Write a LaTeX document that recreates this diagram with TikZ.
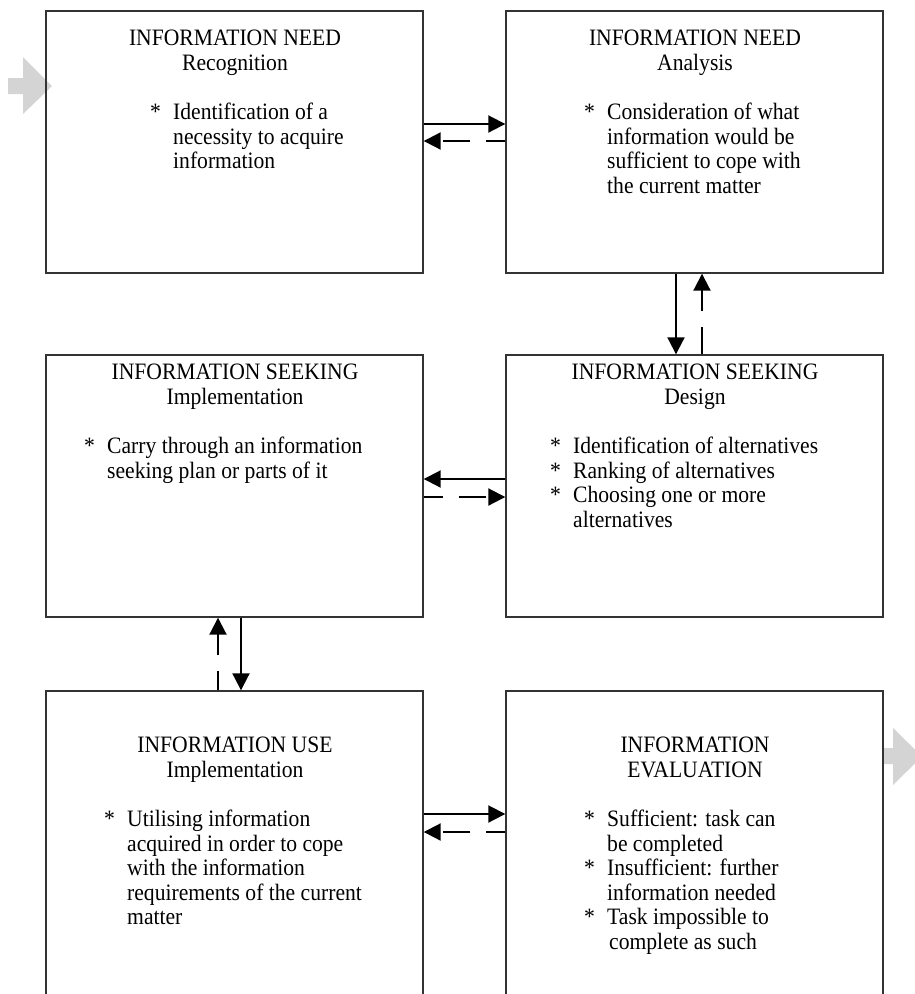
\documentclass[tikz,border=0pt]{standalone}
\usepackage{fontspec}
\setmainfont{Liberation Serif}[FakeStretch=0.92]
\usetikzlibrary{arrows.meta}

% bullet and continuation indent for the item lists
\newcommand{\bit}{\makebox[23pt][l]{*}}
\newcommand{\bco}{\hspace*{23pt}}

\begin{document}
\begin{tikzpicture}[x=1pt,y=-1pt,
  box/.style={draw=black!80, line width=1.4pt, minimum width=377pt,
    minimum height=262pt, inner sep=0pt},
  openbox/.style={box, minimum height=320pt},
  title/.style={align=center, inner sep=0pt, anchor=north,
    font=\fontsize{23.5}{24.5}\selectfont},
  body/.style={align=left, inner sep=0pt, anchor=north west,
    font=\fontsize{23.5}{24.5}\selectfont},
  flow/.style={line width=2pt, -{Triangle[length=17pt,width=17pt]}},
  back/.style={flow, dash pattern=on 27pt off 16pt, dash phase=8pt},
  hint/.style={fill=black!17, draw=none}]

\useasboundingbox (0,0) rectangle (915,994);
\clip (0,0) rectangle (915,994);

% grey entry and exit arrows
\fill[hint] (8,78) -- (23,78) -- (23,57) -- (52,86) -- (23,114) -- (23,94) -- (8,94) -- cycle;
\fill[hint] (883,748) -- (893,748) -- (893,728) -- (922,756.5) -- (893,785) -- (893,764) -- (883,764) -- cycle;

% boxes
\node[box] (need)   at (234.5,142) {};
\node[box] (anal)   at (694.5,142) {};
\node[box] (impl)   at (234.5,486) {};
\node[box] (design) at (694.5,486) {};
\node[openbox] (use)  at (234.5,851) {};
\node[openbox] (eval) at (694.5,851) {};

% box texts
\node[title] (t1) at (235,30) {INFORMATION NEED\\Recognition};
\node[body]  (b1) at (150,103) {\bit Identification of a\\\bco necessity to acquire\\\bco information};

\node[title] (t2) at (695,30) {INFORMATION NEED\\Analysis};
\node[body]  (b2) at (584,103) {\bit Consideration of what\\\bco information would be\\\bco sufficient to cope with\\\bco the current matter};

\node[title] (t3) at (235,364) {INFORMATION SEEKING\\Implementation};
\node[body]  (b3) at (84,437) {\bit Carry through an information\\\bco seeking plan or parts of it};

\node[title] (t4) at (695,364) {INFORMATION SEEKING\\Design};
\node[body]  (b4) at (550,437) {\bit Identification of alternatives\\\bit Ranking of alternatives\\\bit Choosing one or more\\\bco alternatives};

\node[title] (t5) at (235,737) {INFORMATION USE\\Implementation};
\node[body]  (b5) at (104,810) {\bit Utilising information\\\bco acquired in order to cope\\\bco with the information\\\bco requirements of the current\\\bco matter};

\node[title] (t6) at (695,737) {INFORMATION\\EVALUATION};
\node[body]  (b6) at (584,810) {\bit Sufficient: task can\\\bco be completed\\\bit Insufficient: further\\\bco information needed\\\bit Task impossible to\\\bco\hspace*{2pt}complete as such};

% connectors: solid forward, dashed backward
\draw[flow] ([yshift=18pt]need.east) -- ([yshift=18pt]anal.west);
\draw[back] ([yshift=1pt]anal.west) -- ([yshift=1pt]need.west -| need.east);

\draw[flow] ([xshift=-18.5pt]anal.south) -- ([xshift=-18.5pt]design.north);
\draw[back, dash phase=0pt] ([xshift=7.5pt]design.north) -- ([xshift=7.5pt]anal.south);

\draw[flow] ([yshift=7pt]design.west) -- ([yshift=7pt]impl.east);
\draw[back] ([yshift=-11pt]impl.east) -- ([yshift=-11pt]design.west);

\draw[back] ([xshift=-16.5pt]use.north) -- ([xshift=-16.5pt]impl.south);
\draw[flow] ([xshift=6.5pt]impl.south) -- ([xshift=6.5pt]use.north);

\draw[flow] ([yshift=37pt]use.east) -- ([yshift=37pt]eval.west);
\draw[back] ([yshift=19pt]eval.west) -- ([yshift=19pt]use.east);
\end{tikzpicture}
\end{document}
